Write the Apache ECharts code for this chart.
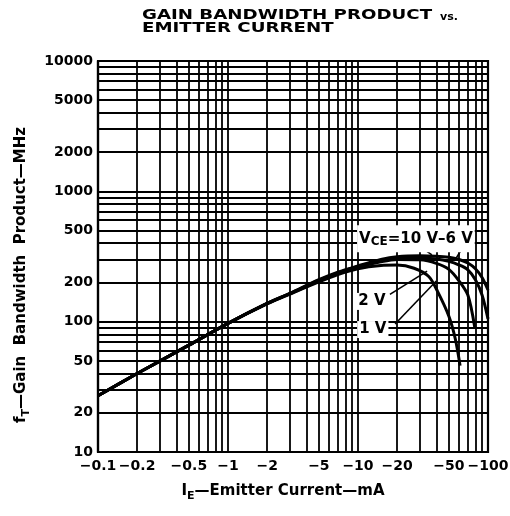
<!DOCTYPE html>
<html>
<head>
<meta charset="utf-8">
<title>Gain Bandwidth Product vs. Emitter Current</title>
<script src="https://cdn.jsdelivr.net/npm/echarts@6/dist/echarts.min.js"></script>
<style>
  html, body { margin: 0; padding: 0; background: #fff; }
  #chart { width: 510px; height: 516px; }
</style>
</head>
<body>
<div id="chart"></div>
<script>
// emitter current (mA, magnitude) and fT (MHz) for each VCE curve
const ie10V = [0.1, 0.2, 0.5, 1, 2, 3, 5, 7, 10, 15, 20, 30, 40, 50, 60, 70, 80, 90, 100];
const ft10V = [27, 40, 66, 97, 138, 165, 210, 240, 268, 300, 315, 320, 318, 312, 300, 282, 255, 218, 175];

const ie6V = [0.1, 0.2, 0.5, 1, 2, 3, 5, 7, 10, 15, 20, 30, 40, 50, 60, 70, 80, 90, 100];
const ft6V = [27, 40, 66, 97, 138, 165, 208, 237, 265, 292, 305, 308, 302, 290, 272, 250, 210, 160, 105];

const ie2V = [0.1, 0.2, 0.5, 1, 2, 3, 5, 7, 10, 15, 20, 30, 40, 50, 60, 70, 79];
const ft2V = [27, 40, 66, 97, 138, 164, 205, 234, 262, 288, 300, 298, 280, 252, 205, 160, 91];

const ie1V = [0.1, 0.2, 0.5, 1, 2, 3, 5, 7, 10, 15, 20, 27, 35, 41, 50, 56, 61];
const ft1V = [27, 40, 66, 97, 137, 163, 202, 230, 255, 270, 272, 257, 222, 170, 110, 74, 46];

// tick labels
const xLabels = [0.1, 0.2, 0.5, 1, 2, 5, 10, 20, 50, 100];
const yLabels = [10, 20, 50, 100, 200, 500, 1000, 2000, 5000, 10000];

// grid lines at every 1..9 multiple of each decade
const gridLines = (lo, hi) => {
  const out = [];
  for (let d = lo; d < hi; d *= 10) {
    for (let k = 1; k <= 9; k++) out.push(+(k * d).toPrecision(3));
  }
  out.push(hi);
  return out;
};
const xGrid = gridLines(0.1, 100);
const yGrid = gridLines(10, 10000);

const pairs = (xs, ys) => xs.map((x, i) => [x, ys[i]]);

const FONT = '"DejaVu Sans", sans-serif';

const chart = echarts.init(document.getElementById('chart'));

const curve = (name, xs, ys, extra) => Object.assign({
  name: name,
  type: 'line',
  data: pairs(xs, ys),
  smooth: 0.3,
  symbol: 'none',
  z: 3,
  lineStyle: { color: '#000', width: 3 },
  silent: true
}, extra || {});

const option = {
  animation: false,
  backgroundColor: '#fff',
  grid: {
    left: 98, right: 22, top: 61, bottom: 64,
    show: true, borderColor: '#000', borderWidth: 2.2,
    outerBoundsMode: 'none'
  },
  xAxis: {
    type: 'log',
    logBase: 10,
    min: 0.1,
    max: 100,
    splitLine: { show: false },
    axisTick: { show: false },
    axisLine: { show: true, lineStyle: { color: '#000', width: 2.2 } },
    axisLabel: {
      customValues: xLabels,
      hideOverlap: false,
      margin: 7,
      color: '#000',
      fontFamily: FONT,
      fontWeight: 'bold',
      fontSize: 14,
      formatter: v => '\u2212' + v
    }
  },
  yAxis: {
    type: 'log',
    logBase: 10,
    min: 10,
    max: 10000,
    splitLine: { show: false },
    axisTick: { show: false },
    axisLine: { show: true, lineStyle: { color: '#000', width: 2.2 } },
    axisLabel: {
      customValues: yLabels,
      hideOverlap: false,
      margin: 5,
      color: '#000',
      fontFamily: FONT,
      fontWeight: 'bold',
      fontSize: 14,
      formatter: v => String(v)
    }
  },
  graphic: [
    {
      type: 'text', x: 142, y: 15.5, scaleX: 1.3,
      style: { text: 'GAIN BANDWIDTH PRODUCT', font: 'bold 14px ' + FONT, fill: '#000', textVerticalAlign: 'middle' }
    },
    {
      type: 'text', x: 440, y: 17,
      style: { text: 'vs.', font: 'bold 11px ' + FONT, fill: '#000', textVerticalAlign: 'middle' }
    },
    {
      type: 'text', x: 142, y: 28, scaleX: 1.3,
      style: { text: 'EMITTER CURRENT', font: 'bold 14px ' + FONT, fill: '#000', textVerticalAlign: 'middle' }
    },
    {
      type: 'text', x: 283, y: 491,
      style: {
        text: '{a|I}{s|E}{a|\u2014Emitter Current\u2014mA}',
        align: 'center', verticalAlign: 'middle',
        rich: {
          a: { font: 'bold 15px ' + FONT, fill: '#000', height: 20 },
          s: { font: 'bold 11px ' + FONT, fill: '#000', height: 20, padding: [10, 0, 0, 0] }
        }
      }
    },
    {
      type: 'text', x: 21, y: 275, rotation: Math.PI / 2,
      style: {
        text: '{a|f}{s|T}{a|\u2014Gain  Bandwidth  Product\u2014MHz}',
        align: 'center', verticalAlign: 'middle',
        rich: {
          a: { font: 'bold 15px ' + FONT, fill: '#000', height: 20 },
          s: { font: 'bold 11px ' + FONT, fill: '#000', height: 20, padding: [10, 0, 0, 0] }
        }
      }
    }
  ],
  series: [
    {
      name: 'grid',
      type: 'line',
      data: [],
      z: 1,
      silent: true,
      markLine: {
        silent: true,
        symbol: ['none', 'none'],
        label: { show: false },
        lineStyle: { color: '#000', width: 1.8, type: 'solid' },
        emphasis: { disabled: true },
        data: xGrid.map(v => ({ xAxis: v })).concat(yGrid.map(v => ({ yAxis: v })))
      }
    },
    curve('10 V', ie10V, ft10V),
    curve('6 V', ie6V, ft6V),
    curve('2 V', ie2V, ft2V),
    curve('1 V', ie1V, ft1V, {
      z: 5,
      markLine: {
        silent: true,
        symbol: ['none', 'none'],
        label: { show: false },
        lineStyle: { color: '#000', width: 1.6, type: 'solid' },
        emphasis: { disabled: true },
        data: [
          [{ coord: [31.5, 365] }, { coord: [37, 325] }],
          [{ coord: [63, 362] }, { coord: [56, 300] }],
          [{ coord: [17.6, 162] }, { coord: [34, 244] }],
          [{ coord: [19.3, 96] }, { coord: [40, 205] }]
        ]
      },
      markPoint: {
        silent: true,
        symbol: 'circle',
        symbolSize: 1,
        itemStyle: { color: 'rgba(0,0,0,0)' },
        label: {
          show: true,
          position: 'inside',
          backgroundColor: '#fff',
          padding: [1, 2],
          color: '#000',
          fontFamily: FONT,
          fontWeight: 'bold',
          fontSize: 15
        },
        data: [
          {
            coord: [27.9, 432],
            label: {
              formatter: '{v|V}{s|CE}{v|=10 V\u20136 V}',
              rich: {
                v: { fontFamily: FONT, fontWeight: 'bold', fontSize: 15, color: '#000', height: 18 },
                s: { fontFamily: FONT, fontWeight: 'bold', fontSize: 12, color: '#000', height: 18, padding: [7, 0, 0, 0] }
              }
            }
          },
          { coord: [12.8, 143], label: { formatter: '2 V' } },
          { coord: [13.0, 87], label: { formatter: '1 V' } }
        ]
      }
    })
  ]
};

chart.setOption(option);
window.addEventListener('resize', () => chart.resize());
</script>
</body>
</html>
